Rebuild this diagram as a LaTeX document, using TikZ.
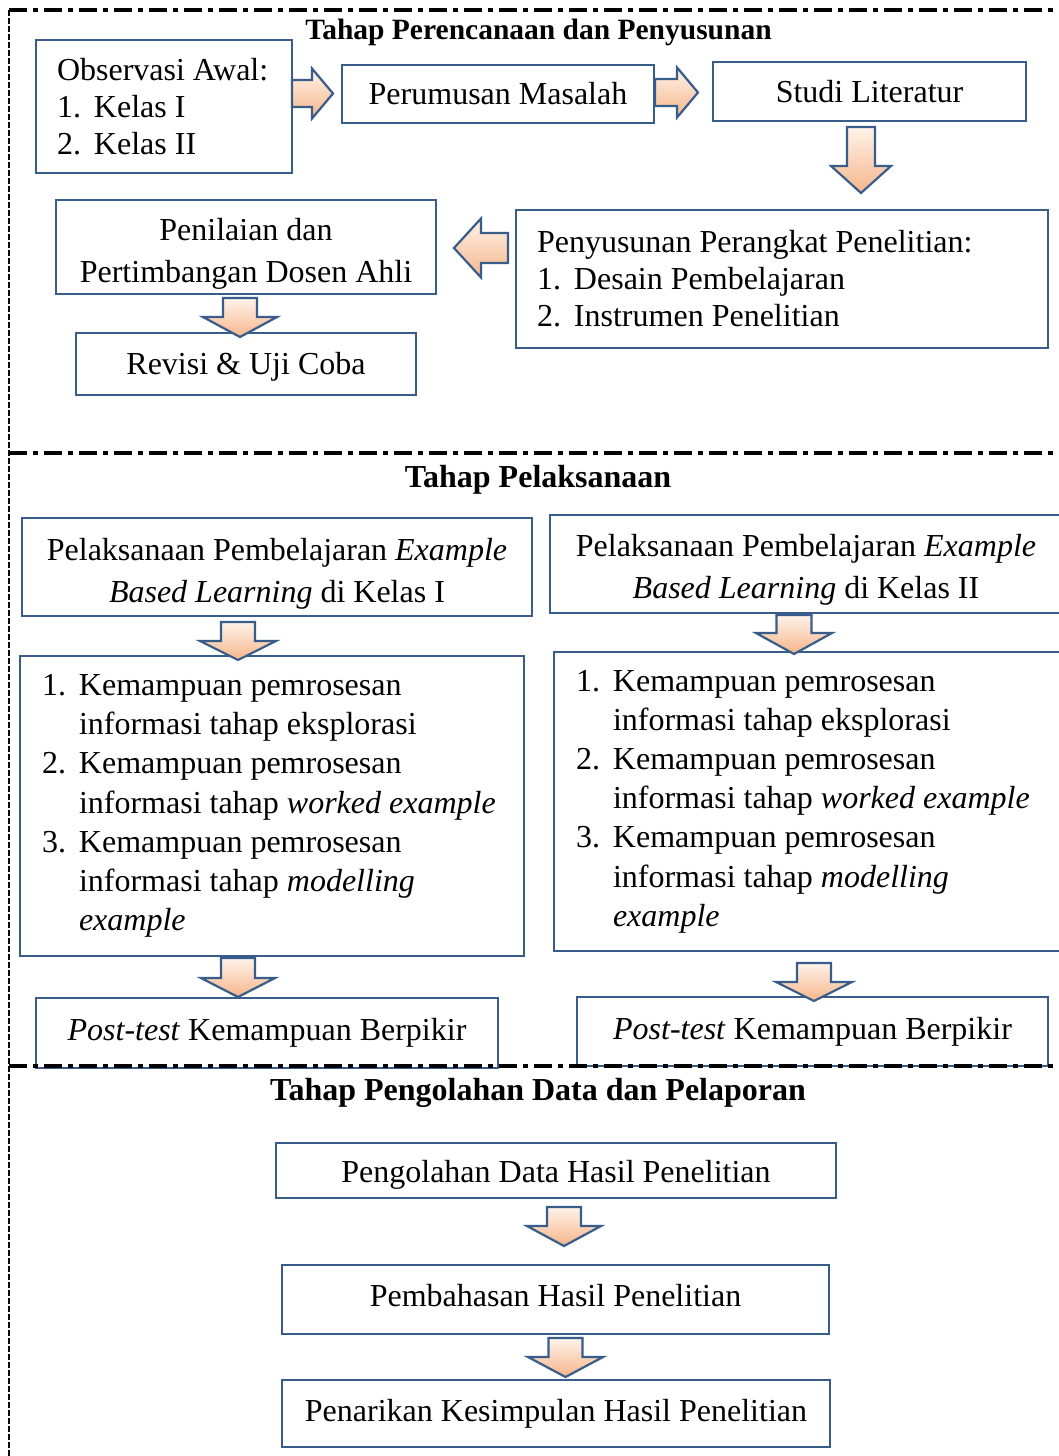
\documentclass[tikz,border=0pt]{standalone}
\usepackage{fontspec}
\setmainfont{Liberation Serif}
\definecolor{bblue}{HTML}{385D8A}
\definecolor{peachtop}{HTML}{FEF3EA}
\definecolor{peachbot}{HTML}{F6B58A}
\newcommand\numlab[1]{\makebox[37pt][l]{#1}}
\newcommand\natsp{\spaceskip=0pt\xspaceskip=0pt\relax}
% down block arrow: cx, ytop, yhead, shaft half width, head half width, ytip
\newcommand\DArrow[6]{\draw[barrow] (#1-#4,#2) -- (#1+#4,#2) -- (#1+#4,#3) -- (#1+#5,#3) -- (#1,#6) -- (#1-#5,#3) -- (#1-#4,#3) -- cycle;}
% horizontal block arrow: yc, xstart, xhead, xtip, shaft half width, head half width
\newcommand\HArrow[6]{\draw[barrow] (#2,#1-#5) -- (#3,#1-#5) -- (#3,#1-#6) -- (#4,#1) -- (#3,#1+#6) -- (#3,#1+#5) -- (#2,#1+#5) -- cycle;}
\tikzset{
  box/.style={draw=bblue, line width=2.2pt, fill=white, inner sep=0pt, align=center, font=\fontsize{32}{38}\selectfont},
  lbox/.style={box, align=flush left},
  txt/.style={inner sep=0pt, align=center, font=\fontsize{32}{42}\selectfont},
  barrow/.style={draw=bblue, line width=2.2pt, top color=peachtop, bottom color=peachbot, line join=miter},
  ttl/.style={font=\fontsize{32}{38}\selectfont\bfseries, anchor=base, inner sep=0pt},
  sepline/.style={line width=4pt, dash pattern=on 18pt off 6pt on 5pt off 6pt},
  leftline/.style={line width=1.5pt, dash pattern=on 6pt off 2pt}
}
\begin{document}
\begin{tikzpicture}[x=1pt,y=-1pt]
\useasboundingbox[fill=white] (0,0) rectangle (1059,1456);

% ---- Section 1 ----
\node[lbox, minimum width=256pt, minimum height=133pt, text width=214pt, font=\fontsize{32}{37}\selectfont] (obs) at (164,106.5)
  {\natsp Observasi Awal:\\\numlab{1.}Kelas I\\\numlab{2.}Kelas II};
\node[box, minimum width=312pt, minimum height=58pt] (rum) at (498,94) {Perumusan Masalah};
\node[box, minimum width=313pt, minimum height=59pt] (lit) at (869.5,91.5) {Studi Literatur};
\node[lbox, minimum width=532pt, minimum height=138pt, text width=490pt, font=\fontsize{32}{37}\selectfont] (sus) at (782,279)
  {\natsp Penyusunan Perangkat Penelitian:\\\numlab{1.}Desain Pembelajaran\\\numlab{2.}Instrumen Penelitian};
\node[box, minimum width=380pt, minimum height=94pt] (nil) at (246,247) {};
\node[txt, yshift=-7pt] (nil-t) at (nil.center) {Penilaian dan\\Pertimbangan Dosen Ahli};
\node[box, minimum width=340pt, minimum height=62pt] (rev) at (246,364) {};
\node[txt, yshift=-3pt] (rev-t) at (rev.center) {Revisi \& Uji Coba};

% ---- Section 2 ----
\node[box, minimum width=510pt, minimum height=98pt] (pl1) at (277,567) {};
\node[txt, yshift=-7pt] (pl1-t) at (pl1.center)
  {Pelaksanaan Pembelajaran \textit{Example}\\\textit{Based Learning} di Kelas I};
\node[box, minimum width=512pt, minimum height=98pt] (pl2) at (806,564) {};
\node[txt, yshift=-6pt] (pl2-t) at (pl2.center)
  {Pelaksanaan Pembelajaran \textit{Example}\\\textit{Based Learning} di Kelas II};
\node[lbox, minimum width=504pt, minimum height=300pt, text width=460pt, font=\fontsize{32}{39.2}\selectfont] (km1) at (272,806)
  {\natsp\numlab{1.}Kemampuan pemrosesan\\\hspace*{37pt}informasi tahap eksplorasi\\
   \numlab{2.}Kemampuan pemrosesan\\\hspace*{37pt}informasi tahap \textit{worked example}\\
   \numlab{3.}Kemampuan pemrosesan\\\hspace*{37pt}informasi tahap \textit{modelling}\\\hspace*{37pt}\textit{example}};
\node[lbox, minimum width=508pt, minimum height=299pt, text width=464pt, font=\fontsize{32}{39.2}\selectfont] (km2) at (808,801.5)
  {\natsp\numlab{1.}Kemampuan pemrosesan\\\hspace*{37pt}informasi tahap eksplorasi\\
   \numlab{2.}Kemampuan pemrosesan\\\hspace*{37pt}informasi tahap \textit{worked example}\\
   \numlab{3.}Kemampuan pemrosesan\\\hspace*{37pt}informasi tahap \textit{modelling}\\\hspace*{37pt}\textit{example}};
\node[box, minimum width=462pt, minimum height=70pt] (pt1) at (267,1033) {\textit{Post-test} Kemampuan Berpikir};
\node[box, minimum width=471pt, minimum height=69pt] (pt2) at (812.5,1031.5) {\textit{Post-test} Kemampuan Berpikir};

% ---- Section 3 ----
\node[box, minimum width=560pt, minimum height=55pt] (olah) at (556,1170.5) {};
\node[txt, yshift=-4pt] (olah-t) at (olah.center) {Pengolahan Data Hasil Penelitian};
\node[box, minimum width=547pt, minimum height=69pt] (bahas) at (555.5,1299.5) {};
\node[txt, yshift=4pt] (bahas-t) at (bahas.center) {Pembahasan Hasil Penelitian};
\node[box, minimum width=548pt, minimum height=67pt] (simp) at (556,1413.5) {Penarikan Kesimpulan Hasil Penelitian};

% ---- block arrows ----
\HArrow{93.5}{292}{312}{333}{13.5}{25}
\HArrow{92.5}{655}{677}{698}{13.5}{25}
\DArrow{861}{127}{166}{14}{30}{193}
\HArrow{248}{508}{481}{454}{15}{29.5}
\DArrow{240}{298}{317}{17}{37}{337}
\DArrow{238}{622}{641}{17}{38}{660}
\DArrow{794}{615}{633}{17.5}{38}{654}
\DArrow{238}{958}{978}{17}{37}{997}
\DArrow{814}{963}{982}{17}{38}{1001}
\DArrow{564}{1207}{1226}{17}{37}{1246}
\DArrow{565.5}{1338}{1357}{17}{37.5}{1377}

% ---- frame ----
\draw[leftline] (9,10) -- (9,1456);
\draw[sepline] (9,10) -- (1059,10);
\draw[sepline] (9,453) -- (1059,453);
\draw[sepline] (9,1066) -- (1059,1066);

% ---- titles ----
\node[ttl, font=\fontsize{29.5}{34}\selectfont\bfseries] (t1) at (538.5,39) {Tahap Perencanaan dan Penyusunan};
\node[ttl] (t2) at (538,487) {Tahap Pelaksanaan};
\node[ttl] (t3) at (538,1100) {Tahap Pengolahan Data dan Pelaporan};
\end{tikzpicture}
\end{document}
